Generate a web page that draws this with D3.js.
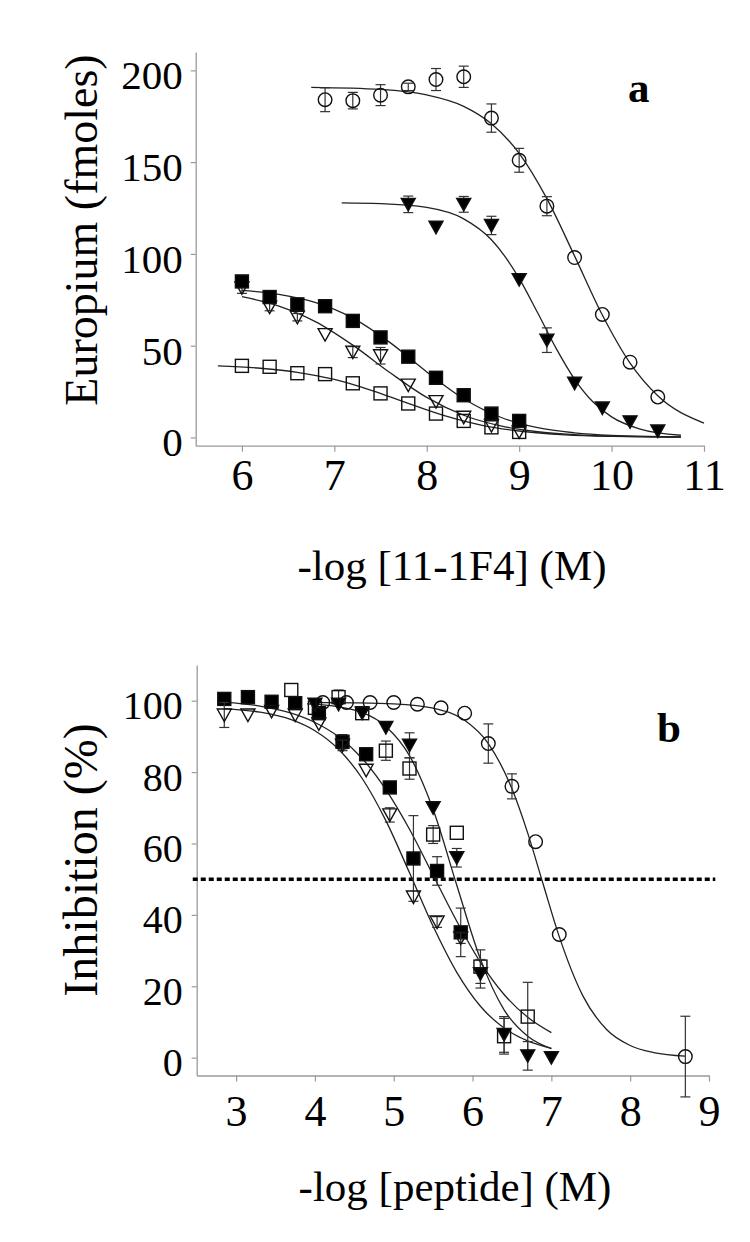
<!DOCTYPE html>
<html>
<head>
<meta charset="utf-8">
<script src="https://cdn.jsdelivr.net/npm/d3@7"></script>
<style>
body { margin: 0; background: #fff; }
text { font-family: "Liberation Serif", "Times New Roman", serif; fill: #000; }
</style>
</head>
<body>
<div id="visual"></div>
<script>
// ---- panel a : -log [11-1F4] ----
var aXTicks = [6, 7, 8, 9, 10, 11];
var aYTicks = [0, 50, 100, 150, 200];
var aXTitle = "-log [11-1F4] (M)";
var aYTitle = "Europium (fmoles)";

var aCircleX = [6.9, 7.2, 7.5, 7.8, 8.1, 8.4, 8.7, 9.0, 9.3, 9.6, 9.9, 10.2, 10.5];
var aCircleY = [184, 183.5, 186.5, 191, 195, 196.5, 174, 151, 126, 98, 67, 41, 22];
var aCircleErr = [6.5, 4.5, 5.7, 2, 6, 5.8, 7.7, 6.5, 5.2, 0, 0, 0, 0];
var aCircleFitX = [6.75, 7.5, 8.0, 8.4, 8.7, 9.0, 9.3, 9.6, 9.9, 10.2, 10.5, 11.0];
var aCircleFitY = [190.7, 189.6, 186.6, 180.4, 170.9, 154.8, 130.1, 98.8, 66.7, 40.5, 22.7, 7.8];

var aTriX = [7.8, 8.1, 8.4, 8.7, 9.0, 9.3, 9.6, 9.9, 10.2, 10.5];
var aTriY = [127, 114.5, 127, 115.5, 86, 53, 29.5, 16, 8.5, 3.5];
var aTriErr = [4.5, 0, 4.3, 5, 0, 6.7, 0, 0, 0, 0];
var aTriFitX = [7.08, 7.5, 8.0, 8.4, 8.7, 9.0, 9.2, 9.4, 9.6, 9.8, 10.0, 10.3, 10.75];
var aTriFitY = [127.8, 127.4, 125.3, 119.1, 107.7, 86.7, 67.9, 48.5, 31.7, 19.3, 11.2, 4.7, 1.2];

var aDoseX = [6.0, 6.3, 6.6, 6.9, 7.2, 7.5, 7.8, 8.1, 8.4, 8.7, 9.0];
var aSquareY = [85, 76.5, 72.5, 71.5, 63.5, 54.5, 44, 32.5, 23, 13, 9];
var aSquareErr = [2, 1, 1.5, 2.5, 1, 3, 1, 1, 1, 2.5, 1];
var aOpenTriY = [81.5, 71, 65.5, 56, 46.5, 44.5, 28.5, 19.5, 11, 6.5, 3];
var aOpenTriErr = [3, 2, 2, 0, 3, 4.5, 0, 0, 0, 0, 0];
var aOpenSqY = [39, 38.5, 35, 34.5, 29.5, 24, 18.5, 13, 9, 5.5, 3];
var aOpenSqErr = [0, 0, 0, 0, 0, 0, 0, 0, 0, 0, 0];

var aLowFitX = [6.0, 6.4, 6.8, 7.2, 7.6, 8.0, 8.4, 8.8, 9.2, 9.6, 10.0, 10.4, 10.75];
var aSquareFitY = [80.1, 77.9, 73.4, 65.0, 51.8, 35.7, 21.1, 11.0, 5.3, 2.5, 1.1, 0.5, 0.3];
var aOpenTriFitY = [76.7, 71.6, 63.0, 50.3, 35.4, 21.8, 12.1, 6.3, 3.1, 1.5, 0.7, 0.4, 0.2];
var aOpenSqFitX = [5.74, 6.2, 6.6, 7.0, 7.4, 7.8, 8.2, 8.6, 9.0, 9.5, 10.0, 10.4, 10.75];
var aOpenSqFitY = [39.0, 37.7, 35.5, 31.6, 25.7, 18.5, 11.7, 6.6, 3.5, 1.45, 0.6, 0.3, 0.15];

// ---- panel b : -log [peptide] ----
var bXTicks = [3, 4, 5, 6, 7, 8, 9];
var bYTicks = [0, 20, 40, 60, 80, 100];
var bXTitle = "-log [peptide] (M)";
var bYTitle = "Inhibition (%)";
var bHalf = 50;

var bCircleX = [4.1, 4.4, 4.7, 5.0, 5.3, 5.6, 5.9, 6.2, 6.5, 6.8, 7.1, 8.7];
var bCircleY = [99.5, 99.5, 99.5, 99.5, 99, 98, 96.5, 88, 76, 60.5, 34.5, 0.3];
var bCircleErr = [0, 0, 0, 0, 0, 0, 0, 5.5, 3.5, 0, 0, 11.3];
var bCircleFitX = [3.95, 4.5, 5.0, 5.5, 5.9, 6.2, 6.5, 6.7, 6.9, 7.1, 7.4, 7.7, 8.0, 8.3, 8.7];
var bCircleFitY = [99.5, 99.4, 99.1, 97.9, 94.5, 88.0, 75.3, 62.9, 48.3, 33.9, 17.3, 7.9, 3.4, 1.4, 0.4];

var bLowX = [2.85, 3.15, 3.45, 3.75, 4.05, 4.35, 4.65, 4.95, 5.25, 5.55, 5.85];
var bSquareY = [100.5, 101, 99.7, 99.3, 96.5, 88.5, 85, 75.7, 55.8, 52.3, 35.1];
var bSquareErr = [1, 1, 0, 0, 0, 2, 0, 0, 12, 4, 6.8];
var bOpenTriY = [96, 96, 97, 96, 93.5, 87.5, 80.5, 68, 45, 38, 33.5];
var bOpenTriErr = [3.5, 0, 0, 0, 0, 1.5, 0, 2, 0, 1.5, 1.5];

var bOpenSqX = [3.7, 4.0, 4.3, 4.6, 4.9, 5.2, 5.5, 5.8, 6.1, 6.4, 6.7];
var bOpenSqY = [103, 98, 101, 96.5, 86, 81, 62.5, 63, 25.5, 6, 11.5];
var bOpenSqErr = [0, 0, 2, 0, 2.7, 3, 2.5, 0, 4.7, 5, 9.6];

var bTriX = [4.0, 4.3, 4.6, 4.9, 5.2, 5.5, 5.8, 6.1, 6.4, 6.7, 7.0];
var bTriY = [99, 99, 96.5, 92.5, 87.5, 70, 56, 23.5, 6.5, 0.5, 0];
var bTriErr = [0, 0, 0, 0, 3.5, 0, 2.6, 4, 5, 4, 0];

var bFitX = [2.85, 3.3, 3.7, 4.0, 4.3, 4.6, 4.9, 5.2, 5.5, 5.8, 6.1, 6.4, 6.7, 7.0];
var bSquareFitY = [99.6, 98.5, 96.5, 93.9, 89.9, 83.8, 75.1, 64.0, 51.1, 38.2, 26.7, 17.7, 11.3, 7.0];
var bOpenTriFitY = [97.8, 96.8, 94.7, 91.6, 86.4, 78.2, 66.4, 51.8, 36.8, 23.9, 14.4, 8.3, 4.7, 2.6];
var bTriFitX = [3.9, 4.3, 4.6, 4.9, 5.2, 5.5, 5.8, 6.1, 6.4, 6.7, 7.0];
var bTriFitY = [99.1, 98.3, 96.7, 92.8, 84.6, 69.5, 48.3, 27.6, 13.4, 6.0, 2.5];


var svg = d3.select("#visual").append("svg")
    .attr("width", 750)
    .attr("height", 1242);

svg.append("rect").attr("width", 750).attr("height", 1242).attr("fill", "#fff");

function series(xs, ys, errs, fx, fy, shape, filled) {
    return {
        pts: xs.map(function (d, i) { return { x: d, y: ys[i], e: errs ? errs[i] : 0 }; }),
        fit: fx ? fx.map(function (d, i) { return [d, fy[i]]; }) : null,
        shape: shape,
        filled: filled
    };
}

function drawMarker(g, shape, filled) {
    var m;
    if (shape === "circle") {
        m = g.append("circle").attr("r", 6.8);
    } else if (shape === "square") {
        m = g.append("rect").attr("x", -6.5).attr("y", -6.5).attr("width", 13).attr("height", 13);
    } else {
        m = g.append("path").attr("d", "M-7,-6L7,-6L0,6.5Z");
    }
    m.attr("fill", filled ? "#000" : "none")
     .attr("stroke", "#111")
     .attr("stroke-width", 1.4);
}

function drawPanel(p) {
    var g = svg.append("g");
    var x = p.x, y = p.y;
    var fmt = d3.format("d");

    var xAxis = g.append("g")
        .attr("transform", "translate(0," + y.range()[0] + ")")
        .call(d3.axisBottom(x).tickValues(p.xTicks).tickFormat(fmt)
            .tickSize(6).tickSizeOuter(0).tickPadding(p.xPad));
    var yAxis = g.append("g")
        .attr("transform", "translate(" + x.range()[0] + ",0)")
        .call(d3.axisLeft(y).tickValues(p.yTicks).tickFormat(fmt)
            .tickSize(5).tickSizeOuter(0).tickPadding(p.yPad));

    [xAxis, yAxis].forEach(function (a) {
        a.attr("font-family", null);
        a.select(".domain").attr("stroke", "#9a9a9a").attr("stroke-width", 1.3);
        a.selectAll(".tick line").attr("stroke", "#9a9a9a").attr("stroke-width", 1.2);
        a.selectAll(".tick text").attr("fill", "#000");
    });
    xAxis.selectAll(".tick text").style("font-size", p.xTickSize + "px");
    yAxis.selectAll(".tick text").style("font-size", p.yTickSize + "px").attr("dy", "0.45em");

    // dotted 50 % line
    if (p.ref) {
        g.append("line")
            .attr("x1", x(p.ref.x0)).attr("x2", x(p.ref.x1))
            .attr("y1", y(p.ref.y)).attr("y2", y(p.ref.y))
            .attr("stroke", "#000")
            .attr("stroke-width", 3.5)
            .attr("stroke-dasharray", "5,3");
    }

    var line = d3.line()
        .curve(d3.curveMonotoneX)
        .x(function (d) { return x(d[0]); })
        .y(function (d) { return y(d[1]); });

    p.series.forEach(function (s) {
        if (s.fit) {
            g.append("path")
                .attr("d", line(s.fit))
                .attr("fill", "none")
                .attr("stroke", "#222")
                .attr("stroke-width", 1.3);
        }
    });

    p.series.forEach(function (s) {
        var bars = g.selectAll(null)
            .data(s.pts.filter(function (d) { return d.e > 0; }))
          .enter().append("g")
            .attr("stroke", "#333")
            .attr("stroke-width", 1.2);
        bars.append("line")
            .attr("x1", function (d) { return x(d.x); })
            .attr("x2", function (d) { return x(d.x); })
            .attr("y1", function (d) { return y(d.y - d.e); })
            .attr("y2", function (d) { return y(d.y + d.e); });
        [-1, 1].forEach(function (sgn) {
            bars.append("line")
                .attr("x1", function (d) { return x(d.x) - 5; })
                .attr("x2", function (d) { return x(d.x) + 5; })
                .attr("y1", function (d) { return y(d.y + sgn * d.e); })
                .attr("y2", function (d) { return y(d.y + sgn * d.e); });
        });

        g.selectAll(null)
            .data(s.pts)
          .enter().append("g")
            .attr("transform", function (d) { return "translate(" + x(d.x) + "," + y(d.y) + ")"; })
            .each(function () { drawMarker(d3.select(this), s.shape, s.filled); });
    });

    g.append("text")
        .attr("x", p.xTitlePos[0]).attr("y", p.xTitlePos[1])
        .attr("text-anchor", "middle")
        .style("font-size", p.xTitleSize + "px")
        .text(p.xTitle);

    g.append("text")
        .attr("transform", "translate(" + p.yTitlePos[0] + "," + p.yTitlePos[1] + ") rotate(-90)")
        .attr("text-anchor", "middle")
        .style("font-size", p.yTitleSize + "px")
        .text(p.yTitle);

    g.append("text")
        .attr("x", p.tag[0]).attr("y", p.tag[1])
        .style("font-size", "43px")
        .style("font-weight", "bold")
        .text(p.tag[2]);
}

drawPanel({
    x: d3.scaleLinear().domain([5.5, 11]).range([195.7, 704]),
    y: d3.scaleLinear().domain([-4.5, 210]).range([445.7, 52]),
    xTicks: aXTicks, yTicks: aYTicks,
    xPad: 7.5, yPad: 8, xTickSize: 44, yTickSize: 41,
    xTitle: aXTitle, yTitle: aYTitle,
    xTitlePos: [452, 580], yTitlePos: [97, 230],
    xTitleSize: 43, yTitleSize: 46,
    tag: [628, 102, "a"],
    series: [
        series(aDoseX, aOpenSqY, aOpenSqErr, aOpenSqFitX, aOpenSqFitY, "square", false),
        series(aDoseX, aOpenTriY, aOpenTriErr, aLowFitX, aOpenTriFitY, "tri", false),
        series(aDoseX, aSquareY, aSquareErr, aLowFitX, aSquareFitY, "square", true),
        series(aTriX, aTriY, aTriErr, aTriFitX, aTriFitY, "tri", true),
        series(aCircleX, aCircleY, aCircleErr, aCircleFitX, aCircleFitY, "circle", false)
    ]
});

drawPanel({
    x: d3.scaleLinear().domain([2.5, 9]).range([196.7, 709]),
    y: d3.scaleLinear().domain([-5, 110]).range([1075.5, 665]),
    xTicks: bXTicks, yTicks: bYTicks,
    xPad: 13.5, yPad: 9, xTickSize: 44, yTickSize: 40,
    xTitle: bXTitle, yTitle: bYTitle,
    xTitlePos: [455, 1201], yTitlePos: [97, 860],
    xTitleSize: 43, yTitleSize: 48,
    tag: [657, 742, "b"],
    ref: { y: bHalf, x0: 2.45, x1: 9.08 },
    series: [
        series(bOpenSqX, bOpenSqY, bOpenSqErr, null, null, "square", false),
        series(bLowX, bSquareY, bSquareErr, bFitX, bSquareFitY, "square", true),
        series(bLowX, bOpenTriY, bOpenTriErr, bFitX, bOpenTriFitY, "tri", false),
        series(bTriX, bTriY, bTriErr, bTriFitX, bTriFitY, "tri", true),
        series(bCircleX, bCircleY, bCircleErr, bCircleFitX, bCircleFitY, "circle", false)
    ]
});
</script>
</body>
</html>
